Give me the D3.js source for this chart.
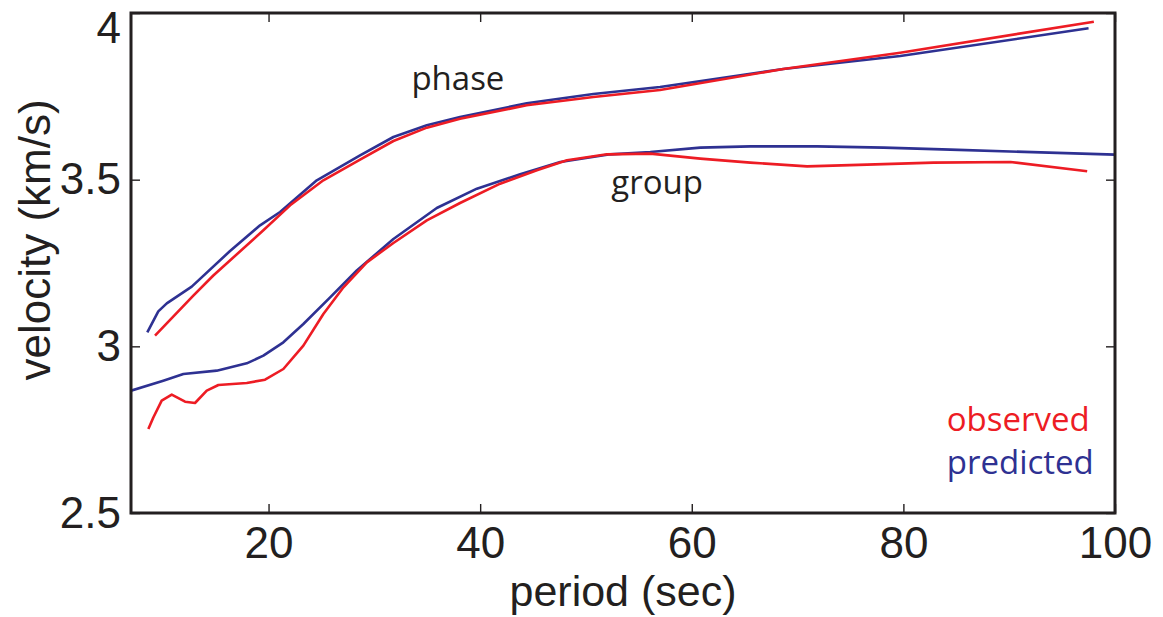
<!DOCTYPE html>
<html>
<head>
<meta charset="utf-8">
<script src="https://cdn.jsdelivr.net/npm/d3@7"></script>
<style>
  body { margin: 0; background: #fff; }
  .tick text { font-family: "Liberation Sans", Arial, sans-serif; font-size: 44px; fill: #231f20; }
  .tick line { stroke: #231f20; stroke-width: 1.4; }
</style>
</head>
<body>
<div id="chart"></div>
<script>
// phase velocity, predicted (blue)
var phasePredPeriod = [8.54, 9.58, 10.38, 12.74, 16.36, 19.2, 21.09, 24.56, 28.65, 31.8, 34.96, 38.1, 44.4, 50.7, 57.0, 68.65, 79.7, 97.5];
var phasePredVel    = [3.042, 3.105, 3.129, 3.179, 3.286, 3.363, 3.403, 3.498, 3.573, 3.628, 3.663, 3.688, 3.729, 3.757, 3.778, 3.832, 3.871, 3.954];

// phase velocity, observed (red)
var phaseObsPeriod = [9.27, 12.89, 14.78, 19.51, 22.04, 25.18, 28.65, 31.8, 34.96, 38.1, 44.4, 50.7, 57.0, 68.65, 79.7, 98.0];
var phaseObsVel    = [3.032, 3.152, 3.2125, 3.348, 3.423, 3.498, 3.56, 3.616, 3.656, 3.683, 3.723, 3.748, 3.769, 3.832, 3.881, 3.974];

// group velocity, predicted (blue)
var groupPredPeriod = [7, 10.05, 11.95, 15.1, 17.94, 19.51, 21.4, 23.29, 25.82, 28.34, 31.8, 35.9, 39.69, 43.78, 47.57, 52.3, 56.08, 60.8, 65.53, 71.84, 78.14, 84.45, 100];
var groupPredVel    = [2.867, 2.897, 2.917, 2.927, 2.949, 2.972, 3.012, 3.067, 3.147, 3.2275, 3.322, 3.415, 3.473, 3.516, 3.553, 3.576, 3.583, 3.596, 3.600, 3.600, 3.596, 3.590, 3.575];

// group velocity, observed (red)
var groupObsPeriod = [8.64, 9.11, 9.9, 10.85, 12.11, 13.05, 14.16, 15.26, 17.94, 19.67, 21.4, 23.29, 25.18, 27.08, 29.29, 31.8, 34.96, 38.1, 41.89, 45.36, 48.2, 51.98, 56.08, 60.8, 65.53, 70.9, 76.57, 82.84, 90.12, 97.37];
var groupObsVel    = [2.752, 2.7865, 2.837, 2.855, 2.834, 2.83, 2.867, 2.884, 2.89, 2.9, 2.932, 3.002, 3.097, 3.177, 3.252, 3.31, 3.378, 3.430, 3.488, 3.528, 3.558, 3.576, 3.578, 3.563, 3.551, 3.540, 3.545, 3.551, 3.553, 3.525];

var xTicks = [20, 40, 60, 80, 100];
var yTicks = [2.5, 3, 3.5, 4];

var observedColor = "#ed1c24",
    predictedColor = "#2e3192",
    ink = "#231f20";

var margin = {top: 13, right: 48, bottom: 104, left: 131},
    width = 1163 - margin.left - margin.right,
    height = 617 - margin.top - margin.bottom;

var svg = d3.select("#chart")
  .append("svg")
    .attr("width", 1163)
    .attr("height", 617)
  .append("g")
    .attr("transform", "translate(" + margin.left + "," + margin.top + ")");

var x = d3.scaleLinear().domain([7, 100]).range([0, width]);
var y = d3.scaleLinear().domain([2.5, 4]).range([height, 0]);

// axes, ticks pointing inward on all four sides
svg.append("g")
    .attr("transform", "translate(0," + height + ")")
    .call(d3.axisBottom(x).tickValues(xTicks).tickSizeInner(-9).tickSizeOuter(0).tickPadding(14))
    .call(function(g) { g.select(".domain").remove(); });

svg.append("g")
    .call(d3.axisTop(x).tickValues(xTicks).tickSizeInner(-9).tickSizeOuter(0).tickFormat(""))
    .call(function(g) { g.select(".domain").remove(); });

svg.append("g")
    .call(d3.axisLeft(y).tickValues(yTicks).tickSizeInner(-9).tickSizeOuter(0).tickPadding(10).tickFormat(d3.format("")))
    .call(function(g) { g.select(".domain").remove(); })
    .call(function(g) {
      // top label sits lower so it stays inside the figure
      g.selectAll(".tick text").filter(function(d) { return d === 4; }).attr("dy", "0.66em");
    });

svg.append("g")
    .attr("transform", "translate(" + width + ",0)")
    .call(d3.axisRight(y).tickValues(yTicks).tickSizeInner(-9).tickSizeOuter(0).tickFormat(""))
    .call(function(g) { g.select(".domain").remove(); });

// lines
var line = d3.line()
    .x(function(d) { return x(d[0]); })
    .y(function(d) { return y(d[1]); });

var series = [
  {period: phasePredPeriod, vel: phasePredVel, color: predictedColor},
  {period: groupPredPeriod, vel: groupPredVel, color: predictedColor},
  {period: phaseObsPeriod, vel: phaseObsVel, color: observedColor},
  {period: groupObsPeriod, vel: groupObsVel, color: observedColor}
];

svg.append("clipPath").attr("id", "plotclip")
  .append("rect").attr("width", width).attr("height", height);

svg.append("g").attr("clip-path", "url(#plotclip)")
  .selectAll("path")
  .data(series)
  .enter()
  .append("path")
    .attr("d", function(s) { return line(d3.zip(s.period, s.vel)); })
    .attr("fill", "none")
    .attr("stroke", function(s) { return s.color; })
    .attr("stroke-width", 2.6)
    .attr("stroke-linejoin", "round");

// box
svg.append("rect")
    .attr("width", width)
    .attr("height", height)
    .attr("fill", "none")
    .attr("stroke", ink)
    .attr("stroke-width", 3);

// annotations (placed in data units)
var notes = [
  {text: "phase", at: [33.5, 3.769], color: ink},
  {text: "group", at: [52.4, 3.456], color: ink},
  {text: "observed", at: [84.1, 2.747], color: observedColor},
  {text: "predicted", at: [84.1, 2.617], color: predictedColor}
];

svg.selectAll(".note")
  .data(notes)
  .enter()
  .append("text")
    .attr("class", "note")
    .attr("x", function(d) { return x(d.at[0]); })
    .attr("y", function(d) { return y(d.at[1]); })
    .attr("fill", function(d) { return d.color; })
    .style("font-family", "'Open Sans', sans-serif")
    .style("font-size", "33px")
    .text(function(d) { return d.text; });

// axis titles
svg.append("text")
    .attr("x", width / 2)
    .attr("y", 606 - margin.top)
    .attr("text-anchor", "middle")
    .attr("fill", ink)
    .style("font-family", "'Liberation Sans', Arial, sans-serif")
    .style("font-size", "43px")
    .text("period (sec)");

svg.append("text")
    .attr("transform", "translate(" + (50 - margin.left) + "," + (240 - margin.top) + ") rotate(-90)")
    .attr("text-anchor", "middle")
    .attr("fill", ink)
    .style("font-family", "'Liberation Sans', Arial, sans-serif")
    .style("font-size", "44px")
    .text("velocity (km/s)");
</script>
</body>
</html>
